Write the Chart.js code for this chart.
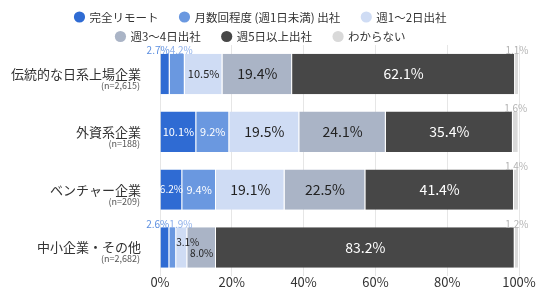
<!DOCTYPE html>
<html>
<head>
<meta charset="utf-8">
<script src="https://cdn.jsdelivr.net/npm/chart.js@4"></script>
<style>
html,body{margin:0;padding:0;background:#fff;}
#wrap{width:544px;height:292px;position:relative;}
</style>
</head>
<body>
<div id="wrap"><canvas id="c"></canvas></div>
<script>
const categories = ['伝統的な日系上場企業', '外資系企業', 'ベンチャー企業', '中小企業・その他'];
const sampleSizes = ['(n=2,615)', '(n=188)', '(n=209)', '(n=2,682)'];
const seriesNames = ['完全リモート', '月数回程度 (週1日未満) 出社', '週1～2日出社', '週3～4日出社', '週5日以上出社', 'わからない'];
const fullRemote = [2.7, 10.1, 6.2, 2.6];
const fewPerMonth = [4.2, 9.2, 9.4, 1.9];
const oneToTwo = [10.5, 19.5, 19.1, 3.1];
const threeToFour = [19.4, 24.1, 22.5, 8.0];
const fivePlus = [62.1, 35.4, 41.4, 83.2];
const unknown = [1.1, 1.6, 1.4, 1.2];
const xTicks = [0, 20, 40, 60, 80, 100];

const colors = ['#2f6bd3', '#6a98e0', '#cfdcf4', '#aab4c6', '#474747', '#d9d9d9'];
const FONT = "'Noto Sans CJK JP', 'Noto Sans', sans-serif";
const seriesValues = [fullRemote, fewPerMonth, oneToTwo, threeToFour, fivePlus, unknown];

const datasets = seriesValues.map((vals, i) => ({
  label: seriesNames[i],
  data: vals,
  backgroundColor: colors[i],
  borderColor: 'rgba(255,255,255,0.55)',
  borderWidth: {left: 0, right: 1, top: 0, bottom: 0},
  borderSkipped: false,
  barPercentage: 0.7,
  categoryPercentage: 1.0
}));

const legendPlugin = {
  id: 'customLegend',
  afterDraw(chart) {
    const ctx = chart.ctx;
    const rows = [[0, 1, 2], [3, 4, 5]];
    const rowY = [17, 36.5];
    const gap = 22;
    const r = 5.6;
    ctx.save();
    ctx.font = '11.5px ' + FONT;
    ctx.textBaseline = 'middle';
    ctx.textAlign = 'left';
    rows.forEach((row, ri) => {
      const widths = row.map(i => 14 + ctx.measureText(seriesNames[i]).width);
      const total = widths.reduce((a, b) => a + b + gap, 0);
      let x = (chart.width - total) / 2;
      row.forEach((i, k) => {
        ctx.fillStyle = colors[i];
        ctx.beginPath();
        ctx.arc(x + 4, rowY[ri], r, 0, Math.PI * 2);
        ctx.fill();
        ctx.fillStyle = '#333';
        ctx.fillText(seriesNames[i], x + 14, rowY[ri] + 0.5);
        x += widths[k] + gap;
      });
    });
    ctx.restore();
  }
};

const yLabelPlugin = {
  id: 'yLabels',
  afterDraw(chart) {
    const ctx = chart.ctx;
    const ys = chart.scales.y;
    ctx.save();
    ctx.textAlign = 'right';
    ctx.textBaseline = 'middle';
    categories.forEach((c, i) => {
      const y = ys.getPixelForValue(i);
      ctx.fillStyle = '#333';
      ctx.font = '13px ' + FONT;
      ctx.fillText(c, 141, y);
      ctx.fillStyle = '#555';
      ctx.font = '9px ' + FONT;
      ctx.fillText(sampleSizes[i], 140, y + 11.5);
    });
    ctx.restore();
  }
};

const lightText = [false, false, true, true, false, false];
const aboveColors = ['#5d8fe0', '#8fb0ea', '#999', '#999', '#999', '#b3b3b3'];

const valueLabelPlugin = {
  id: 'valueLabels',
  afterDatasetsDraw(chart) {
    const ctx = chart.ctx;
    ctx.save();
    const nCat = categories.length;
    for (let i = 0; i < nCat; i++) {
      let prevStaggerUp = false;
      chart.data.datasets.forEach((ds, d) => {
        const el = chart.getDatasetMeta(d).data[i];
        const v = ds.data[i];
        const left = Math.min(el.base, el.x), right = Math.max(el.base, el.x);
        const w = right - left;
        const top = el.y - el.height / 2;
        const text = v.toFixed(1) + '%';
        const last = d === chart.data.datasets.length - 1;
        if (last || (v < 5 && d < 2)) {
          ctx.font = '10px ' + FONT;
          ctx.fillStyle = aboveColors[d];
          ctx.textBaseline = 'bottom';
          let x;
          if (last) { ctx.textAlign = 'center'; x = (left + right) / 2; }
          else if (d === 0) { ctx.textAlign = 'right'; x = right; }
          else { ctx.textAlign = 'left'; x = left; }
          ctx.fillText(text, x, top + 2);
          prevStaggerUp = false;
          return;
        }
        ctx.fillStyle = lightText[d] ? '#222' : '#fff';
        ctx.textBaseline = 'middle';
        if (v < 5) {
          ctx.font = '10px ' + FONT;
          const tw = ctx.measureText(text).width;
          if (tw > w) { ctx.textAlign = 'left'; ctx.fillText(text, left, el.y - 5); }
          else { ctx.textAlign = 'center'; ctx.fillText(text, (left + right) / 2, el.y - 5); }
          prevStaggerUp = true;
          return;
        }
        if (prevStaggerUp && w < 30) {
          ctx.font = '10px ' + FONT;
          ctx.textAlign = 'center';
          ctx.fillText(text, (left + right) / 2, el.y + 6);
          prevStaggerUp = false;
          return;
        }
        prevStaggerUp = false;
        const fs = w >= 50 ? 14 : (w >= 30 ? 11 : 10);
        ctx.font = fs + 'px ' + FONT;
        ctx.textAlign = 'center';
        ctx.fillText(text, (left + right) / 2, el.y);
      });
    }
    ctx.restore();
  }
};

new Chart(document.getElementById('c'), {
  type: 'bar',
  data: { labels: categories, datasets },
  options: {
    indexAxis: 'y',
    responsive: true,
    maintainAspectRatio: false,
    animation: false,
    layout: { padding: { top: 45, right: 25, bottom: 4, left: 0 } },
    plugins: { legend: { display: false }, tooltip: { enabled: false } },
    scales: {
      x: {
        stacked: true, min: 0, max: 100,
        afterBuildTicks(scale) { scale.ticks = xTicks.map(v => ({ value: v })); },
        ticks: { callback: v => v + '%', color: '#333', font: { size: 13, family: FONT }, padding: -2 },
        grid: { color: '#e6e6e6', drawTicks: false },
        border: { display: false }
      },
      y: {
        stacked: true,
        ticks: { display: false },
        grid: { display: false },
        border: { display: false },
        afterFit(scale) { scale.width = 160; }
      }
    }
  },
  plugins: [legendPlugin, yLabelPlugin, valueLabelPlugin]
});
</script>
</body>
</html>
